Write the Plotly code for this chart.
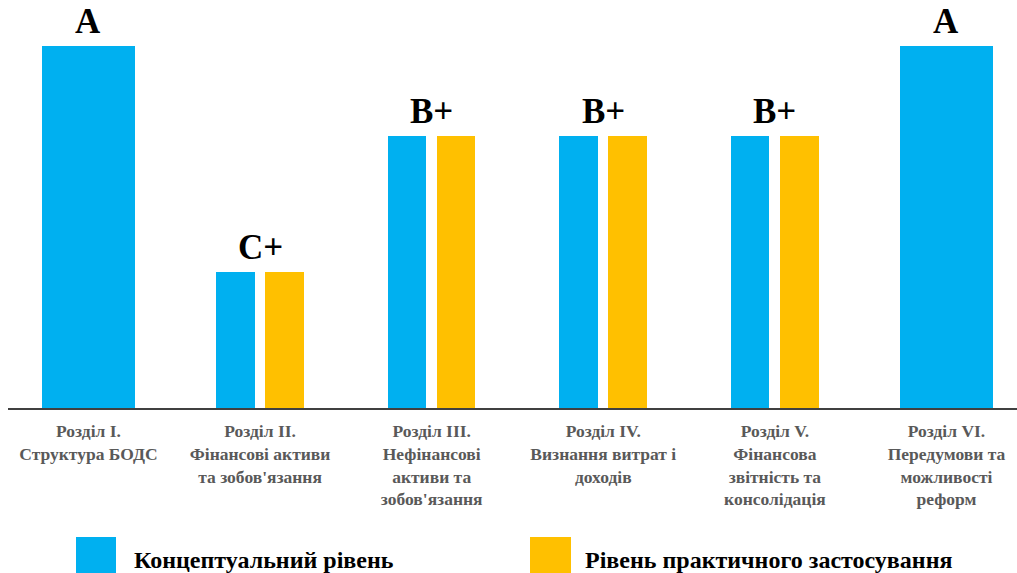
import plotly.graph_objects as go

# Sections of the budget classification and their assessed grades
sections = [
    "Розділ I.<br>Структура БОДС",
    "Розділ II.<br>Фінансові активи<br>та зобов'язання",
    "Розділ III.<br>Нефінансові<br>активи та<br>зобов'язання",
    "Розділ IV.<br>Визнання витрат і<br>доходів",
    "Розділ V.<br>Фінансова<br>звітність та<br>консолідація",
    "Розділ VI.<br>Передумови та<br>можливості<br>реформ",
]
grades = ["A", "C+", "B+", "B+", "B+", "A"]
grade_scale = {"A": 4.0, "B+": 3.0, "C+": 1.5}

# Conceptual level is assessed for every section, practical level only for II-V
conceptual = [grade_scale[g] for g in grades]
practical_sections = [1, 2, 3, 4]
practical = [grade_scale[grades[i]] for i in practical_sections]

series_names = ["Концептуальний рівень", "Рівень практичного застосування"]
BLUE = "#00B0F0"
YELLOW = "#FFC000"
SERIF = "Liberation Serif"

positions = list(range(len(sections)))
paired = set(practical_sections)

# single sections get one wide bar, paired sections get two narrow bars
blue_width = [0.224 if i in paired else 0.542 for i in positions]
blue_offset = [-0.256 if i in paired else -0.271 for i in positions]

fig = go.Figure()
fig.add_trace(go.Bar(
    x=positions, y=conceptual, name=series_names[0],
    width=blue_width, offset=blue_offset,
    marker=dict(color=BLUE, line=dict(width=0)),
    showlegend=False,
))
fig.add_trace(go.Bar(
    x=practical_sections, y=practical, name=series_names[1],
    width=[0.226] * len(practical), offset=[0.029] * len(practical),
    marker=dict(color=YELLOW, line=dict(width=0)),
    showlegend=False,
))

for i, g in enumerate(grades):
    fig.add_annotation(
        x=i, y=conceptual[i], text=f"<b>{g}</b>", showarrow=False,
        xanchor="center", yanchor="bottom", yshift=3,
        font=dict(family=SERIF, size=35, color="black"),
    )

# legend drawn as large swatches with labels below the axis
PL, PW, PH = 8, 1009, 408
def px_x(v):
    return (v - PL) / PW
def px_y(v):
    return (PH - v) / PH

legend_items = [
    (series_names[0], BLUE, 76, 116, 132),
    (series_names[1], YELLOW, 530, 571, 583),
]
for name, color, sx0, sx1, tx in legend_items:
    fig.add_shape(
        type="rect", xref="paper", yref="paper",
        x0=px_x(sx0), x1=px_x(sx1), y0=px_y(537), y1=px_y(585),
        fillcolor=color, line=dict(width=0),
    )
    fig.add_annotation(
        xref="paper", yref="paper", x=px_x(tx), y=px_y(560),
        xanchor="left", yanchor="middle", text=f"<b>{name}</b>", showarrow=False,
        font=dict(family=SERIF, size=24, color="black"),
    )

fig.update_layout(
    width=1017, height=573,
    margin=dict(l=PL, r=0, t=0, b=573 - PH, pad=0),
    paper_bgcolor="white", plot_bgcolor="white",
    bargap=0, showlegend=False,
    xaxis=dict(
        range=[-0.469, 5.411], tickvals=positions,
        ticktext=[f"<b>{s}</b>" for s in sections],
        showgrid=False, zeroline=False, ticks="",
        showline=True, linecolor="#404040", linewidth=2,
        tickfont=dict(family=SERIF, size=17.5, color="#595959"),
        ticklabelstandoff=6,
    ),
    yaxis=dict(range=[0, 4.508], visible=False, showgrid=False, zeroline=False),
)

fig.write_html("out.html")
